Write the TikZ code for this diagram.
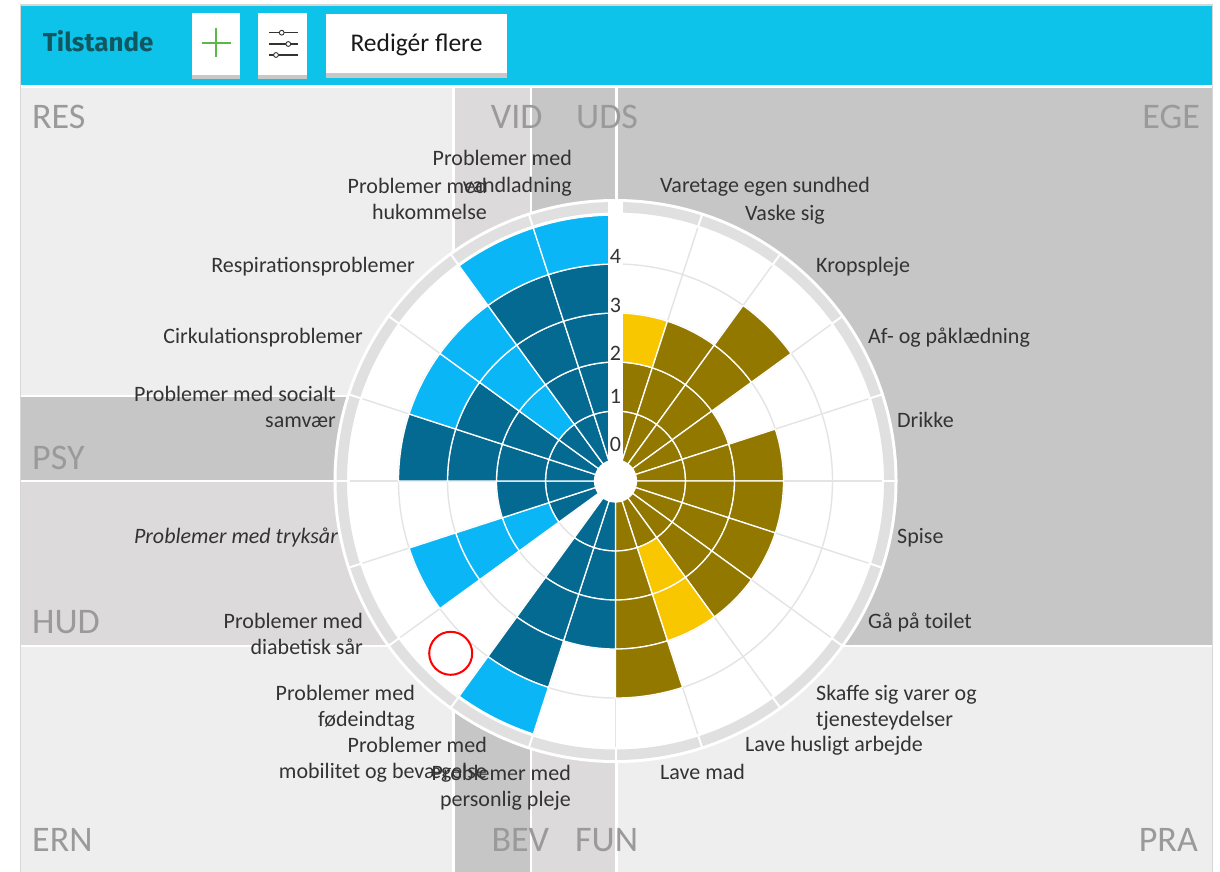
\documentclass[tikz,border=0pt]{standalone}
\usepackage{fontspec}
\setmainfont{Carlito}
\newfontfamily\headfont{Fira Sans}
\definecolor{headcyan}{HTML}{0DC3E9}
\definecolor{headteal}{HTML}{11575F}
\definecolor{framegrey}{HTML}{D6D6D6}
\definecolor{shadowgrey}{HTML}{C8C8C8}
\definecolor{plusgreen}{HTML}{5BBA47}
\definecolor{tilelight}{HTML}{EEEEEE}
\definecolor{tilemid}{HTML}{DCDADA}
\definecolor{tiledark}{HTML}{C6C6C6}
\definecolor{tiletext}{HTML}{9A9A9A}
\definecolor{gridgrey}{HTML}{E4E4E4}
\definecolor{bandgrey}{HTML}{E0E0E0}
\definecolor{darkblue}{HTML}{056A91}
\definecolor{lightblue}{HTML}{0AB6F5}
\definecolor{olivebar}{HTML}{937800}
\definecolor{yellowbar}{HTML}{F8C700}
\definecolor{labtext}{HTML}{333333}
\tikzset{
  gridline/.style={draw=gridgrey, line width=1.4pt},
  catlab/.style={font=\fontsize{22}{26.5}\selectfont, text=labtext, inner sep=0pt},
  ticklab/.style={font=\fontsize{22}{26}\selectfont, text=labtext, inner sep=0pt},
  tilelab/.style={font=\fontsize{36}{40}\selectfont, text=tiletext, inner sep=0pt},
}
% one stacked cell: sector, value from, value to, colour
\newcommand\ringcell[4]{%
  \pgfmathsetmacro\cellA{90-18*#1}%
  \pgfmathsetmacro\cellB{72-18*#1}%
  \pgfmathsetmacro\cellR{21+49*(#2)}%
  \pgfmathsetmacro\cellQ{21+49*(#3)}%
  \filldraw[fill=#4, draw=white, line width=1.3pt] (\cellA:\cellR) arc[start angle=\cellA, end angle=\cellB, radius=\cellR]
    -- (\cellB:\cellQ) arc[start angle=\cellB, end angle=\cellA, radius=\cellQ] -- cycle;}
\begin{document}
\begin{tikzpicture}[x=1pt,y=-1pt]
\useasboundingbox (0,0) rectangle (1220,872);
\fill[white] (0,0) rectangle (1220,872);
% header
\draw[framegrey, line width=1.5] (20.5,872) -- (20.5,5) -- (1212.5,5) -- (1212.5,872);
\fill[headcyan] (21,6) rectangle (1212,85.5);
\node[anchor=base west, inner sep=0pt, font=\headfont\bfseries\fontsize{26}{30}\selectfont, text=headteal] (title) at (42.7,52) {Tilstande};
\fill[shadowgrey] (192,13) rectangle (240,79.3);
\fill[white] (192,13) rectangle (240,75);
\draw[plusgreen, line width=2.2] (201.7,42.7) -- (230.7,42.7) (216.2,28) -- (216.2,57.4);
\fill[shadowgrey] (258.3,13) rectangle (306.7,79.3);
\fill[white] (258.3,13) rectangle (306.7,75);
\foreach \yy/\xx in {32.7/281.7, 44/288.3, 55/276}{
  \draw[labtext, line width=1.1] (269,\yy) -- (297.7,\yy);
  \filldraw[fill=white, draw=labtext, line width=0.9] (\xx,\yy) circle [radius=2.4];
}
\fill[shadowgrey] (326,14) rectangle (507,77.7);
\fill[white] (326,14) rectangle (507,73.3);
\node[anchor=base, inner sep=0pt, font=\fontsize{25.5}{30}\selectfont, text=black!90] (editmany) at (416.5,51.7) {Redigér flere};
% tiles
\fill[tilelight] (21,88) rectangle (452,395);
\fill[tiledark] (21,397) rectangle (452,480);
\fill[tilemid] (21,482) rectangle (452,645);
\fill[tilelight] (21,647) rectangle (452,872);
\fill[tilemid] (454.5,88) rectangle (530,480);
\fill[tiledark] (532,88) rectangle (615,480);
\fill[tiledark] (454.5,482) rectangle (530,872);
\fill[tilemid] (532,482) rectangle (615,872);
\fill[tiledark] (618,88) rectangle (1211.5,645);
\fill[tilelight] (618,647) rectangle (1211.5,872);
\node[tilelab, anchor=base west] (res) at (32,128.5) {RES};
\node[tilelab, anchor=base east] (vid) at (542.7,128.5) {VID};
\node[tilelab, anchor=base west] (uds) at (576,128.5) {UDS};
\node[tilelab, anchor=base east] (ege) at (1200,128.5) {EGE};
\node[tilelab, anchor=base west] (psy) at (32,469) {PSY};
\node[tilelab, anchor=base west] (hud) at (32,633) {HUD};
\node[tilelab, anchor=base west] (ern) at (32,851.7) {ERN};
\node[tilelab, anchor=base east] (bev) at (549.3,851.7) {BEV};
\node[tilelab, anchor=base west] (fun) at (575,851.7) {FUN};
\node[tilelab, anchor=base east] (pra) at (1198,851.7) {PRA};
% chart
\begin{scope}[shift={(615.5,481)}, y=1pt]
\fill[white] (0,0) circle [radius=282];
\foreach \v in {1,...,4} \draw[gridline] (0,0) circle [radius={21+49*\v}];
\foreach \a in {0,18,...,342} \draw[gridline] (\a:21) -- (\a:266);
\draw[bandgrey, line width=10.5] (0,0) circle [radius=273.75];
\foreach \a in {0,18,...,342} \draw[white, line width=2] (\a:267) -- (\a:280);
\foreach \k/\ndark/\nlite in {0/2/1, 1/3/0, 2/4/0, 3/2/0, 4/3/0, 5/3/0, 6/3/0, 7/3/0, 8/1/2, 9/4/0}{
  \foreach \v in {1,...,\ndark} {\ringcell{\k}{\v-1}{\v}{olivebar}}
  \ifnum\nlite>0 \foreach \v in {1,...,\nlite} {\ringcell{\k}{\ndark+\v-1}{\ndark+\v}{yellowbar}}\fi
}
\foreach \k/\ndark/\nlite in {10/3/0, 11/4/1, 13/1/3, 14/2/0, 15/4/0, 16/3/1, 17/1/3, 18/4/1, 19/4/1}{
  \foreach \v in {1,...,\ndark} {\ringcell{\k}{\v-1}{\v}{darkblue}}
  \ifnum\nlite>0 \foreach \v in {1,...,\nlite} {\ringcell{\k}{\ndark+\v-1}{\ndark+\v}{lightblue}}\fi
}
\fill[white] (-7.5,0) rectangle (7.5,281);
\fill[white] (0,0) circle [radius=21];
\foreach \v/\yy in {0/36.7, 1/84.3, 2/127.7, 3/176, 4/224.3}
  \node[ticklab] (tick\v) at (0,\yy) {\v};
\end{scope}
\draw[red, line width=2] (450.7,653.3) circle [radius=21.5];
% labels right
\node[catlab, anchor=base west] (sundhed) at (660,192) {Varetage egen sundhed};
\node[catlab, anchor=base west] (vaske) at (745,220) {Vaske sig};
\node[catlab, anchor=base west] (krop) at (816,272) {Kropspleje};
\node[catlab, anchor=base west] (klaed) at (868,343) {Af- og påklædning};
\node[catlab, anchor=base west] (drikke) at (897,427) {Drikke};
\node[catlab, anchor=base west] (spise) at (897,543) {Spise};
\node[catlab, anchor=base west] (toilet) at (868,628) {Gå på toilet};
\node[catlab, anchor=base west, align=left] (varer) at (816,726.5) {Skaffe sig varer og\\tjenesteydelser};
\node[catlab, anchor=base west] (huslig) at (745,751) {Lave husligt arbejde};
\node[catlab, anchor=base west] (mad) at (660,779) {Lave mad};
% labels left
\node[catlab, anchor=base east, align=right] (vand) at (572,192) {Problemer med\\vandladning};
\node[catlab, anchor=base east, align=right] (hukom) at (487,219.5) {Problemer med\\hukommelse};
\node[catlab, anchor=base east] (respir) at (415,272) {Respirationsproblemer};
\node[catlab, anchor=base east] (cirkul) at (363,343) {Cirkulationsproblemer};
\node[catlab, anchor=base east, align=right] (social) at (336,427.5) {Problemer med socialt\\samvær};
\node[catlab, anchor=base east, font=\fontsize{22}{26.5}\selectfont\itshape] (tryk) at (338,543) {Problemer med tryksår};
\node[catlab, anchor=base east, align=right] (diabet) at (363,654.5) {Problemer med\\diabetisk sår};
\node[catlab, anchor=base east, align=right] (fode) at (415,726.5) {Problemer med\\fødeindtag};
\node[catlab, anchor=base east, align=right] (mobil) at (487,778.5) {Problemer med\\mobilitet og bevægelse};
\node[catlab, anchor=base east, align=right] (pleje) at (571,806.5) {Problemer med\\personlig pleje};
\end{tikzpicture}
\end{document}
